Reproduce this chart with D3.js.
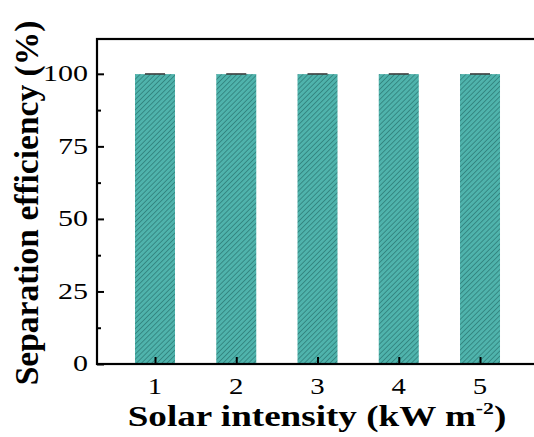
<!DOCTYPE html>
<html>
<head>
<meta charset="utf-8">
<script src="https://cdn.jsdelivr.net/npm/d3@7"></script>
<style>
 html, body { margin: 0; background: #fff; overflow: hidden; }
 svg { display: block; }
 text { font-family: "Liberation Serif", "Times New Roman", serif; }
</style>
</head>
<body>
<div id="chart"></div>
<script>
const intensities = [1, 2, 3, 4, 5];
const efficiency = [99.9, 99.9, 99.9, 99.9, 99.9];
const errors = [0.05, 0.05, 0.05, 0.05, 0.05];
const yTicks = [0, 25, 50, 75, 100];
const yMinor = [12.5, 37.5, 62.5, 87.5];

const width = 534, height = 437;
const plotLeft = 97, plotTop = 39, plotBottom = 364;
const stretch = 1.25; // the source figure is a bit wide in its text

const svg = d3.select("#chart").append("svg")
 .attr("width", width)
 .attr("height", height);

const x = d3.scaleLinear().domain([0.286, 6]).range([plotLeft, plotLeft + 5.714 * 81.25]);
const y = d3.scaleLinear().domain([0, 112]).range([plotBottom, plotTop]);

// hatch fill for the bars
const pat = svg.append("defs").append("pattern")
 .attr("id", "hatch")
 .attr("patternUnits", "userSpaceOnUse")
 .attr("width", 3.6)
 .attr("height", 3.6)
 .attr("patternTransform", "rotate(45)");
pat.append("rect").attr("width", 3.6).attr("height", 3.6).attr("fill", "#4fb3ac");
pat.append("line")
 .attr("x1", 0).attr("y1", 0).attr("x2", 0).attr("y2", 3.6)
 .attr("stroke", "#2a7873").attr("stroke-width", 1.4);

const barW = 40;
svg.selectAll(".bar").data(efficiency).enter()
 .append("rect")
 .attr("x", (d, i) => x(intensities[i]) - barW / 2)
 .attr("y", d => y(d))
 .attr("width", barW)
 .attr("height", d => y(0) - y(d))
 .attr("fill", "url(#hatch)");

// error caps
svg.selectAll(".err").data(efficiency).enter()
 .append("line")
 .attr("x1", (d, i) => x(intensities[i]) - 10)
 .attr("x2", (d, i) => x(intensities[i]) + 10)
 .attr("y1", (d, i) => y(d + errors[i]))
 .attr("y2", (d, i) => y(d + errors[i]))
 .attr("stroke", "#333")
 .attr("stroke-width", 1.5);

// frame (right side runs off the picture)
const x0 = x.range()[0], x1 = x.range()[1];
svg.append("rect")
 .attr("x", x0).attr("y", plotTop)
 .attr("width", x1 - x0).attr("height", plotBottom - plotTop)
 .attr("fill", "none").attr("stroke", "#000").attr("stroke-width", 2.2);

// y axis ticks (inward) and labels
const yAxis = svg.append("g").attr("transform", `translate(${x0},0)`)
 .call(d3.axisRight(y).tickValues(yTicks).tickSize(7).tickFormat(""));
yAxis.select(".domain").remove();
yAxis.selectAll("line").attr("stroke-width", 2);
svg.append("g").attr("transform", `translate(${x0},0)`)
 .call(d3.axisRight(y).tickValues(yMinor).tickSize(4).tickFormat(""))
 .call(g => g.select(".domain").remove())
 .selectAll("line").attr("stroke-width", 2);

svg.append("g").selectAll("text").data(yTicks).enter()
 .append("text")
 .attr("transform", d => `translate(${x0 - 9},${y(d)}) scale(${stretch},1)`)
 .attr("dy", "0.3em")
 .attr("text-anchor", "end")
 .attr("font-size", 24)
 .text(d => d);

// x axis ticks (inward) and labels
const xAxis = svg.append("g").attr("transform", `translate(0,${plotBottom})`)
 .call(d3.axisTop(x).tickValues(intensities).tickSize(7).tickFormat(""));
xAxis.select(".domain").remove();
xAxis.selectAll("line").attr("stroke-width", 2);

svg.append("g").selectAll("text").data(intensities).enter()
 .append("text")
 .attr("transform", d => `translate(${x(d)},${plotBottom + 30}) scale(${stretch},1)`)
 .attr("text-anchor", "middle")
 .attr("font-size", 23)
 .text(d => d);

// axis titles
const xt = svg.append("text")
 .attr("transform", `translate(317,426) scale(1.28,1)`)
 .attr("text-anchor", "middle")
 .attr("font-weight", "bold")
 .attr("font-size", 29);
xt.append("tspan").text("Solar intensity (kW m");
xt.append("tspan").attr("dy", -12).attr("font-size", 17).text("-2");
xt.append("tspan").attr("dy", 12).text(")");

svg.append("text")
 .attr("transform", "translate(38,203) rotate(-90)")
 .attr("text-anchor", "middle")
 .attr("font-weight", "bold")
 .attr("font-size", 33.5)
 .text("Separation efficiency (%)");
</script>
</body>
</html>
